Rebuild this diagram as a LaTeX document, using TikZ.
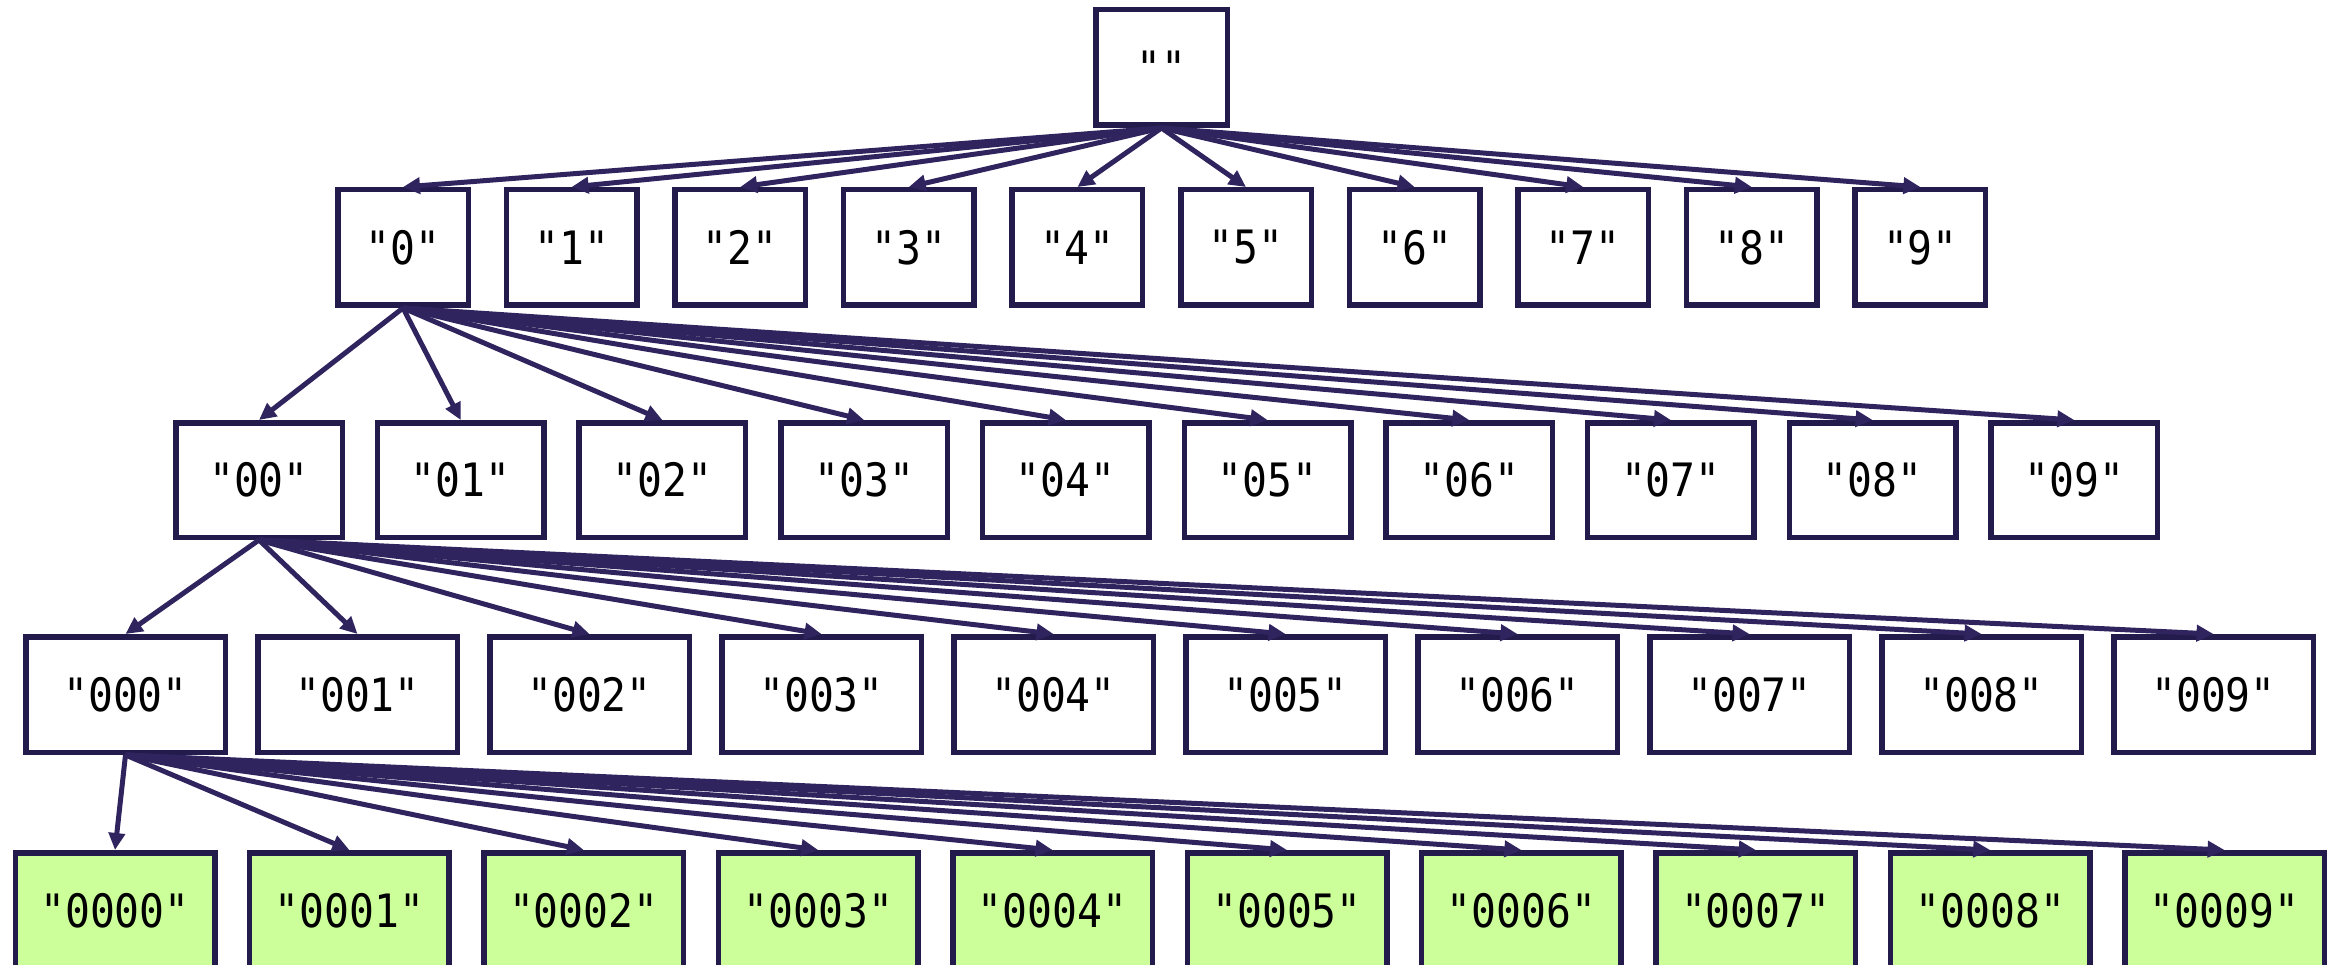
\documentclass[tikz,border=0pt]{standalone}
\usepackage{fontspec}
\newfontfamily\labfont[FakeStretch=0.9]{DejaVu Sans Mono}
\usetikzlibrary{arrows.meta}
\definecolor{bordc}{HTML}{231B4B}
\definecolor{edgec}{HTML}{2F245E}
\definecolor{leafc}{HTML}{CCFF99}
\begin{document}
\begin{tikzpicture}[x=1pt,y=-1pt,
  box/.style={draw=bordc, line width=5.5pt, fill=white, inner sep=0pt,
    font=\labfont\fontsize{46}{52}\selectfont, text=black},
  lzero/.style={box, minimum width=131.5pt, minimum height=115.5pt},
  lone/.style={box, minimum width=130.5pt, minimum height=115.5pt},
  ltwo/.style={box, minimum width=166.5pt, minimum height=114.5pt},
  lthree/.style={box, minimum width=199.5pt, minimum height=115.5pt},
  lfour/.style={box, fill=leafc, minimum width=199.5pt, minimum height=115.5pt},
  link/.style={draw=edgec, line width=5pt, -{Triangle[length=17pt,width=16pt]}}]
\useasboundingbox (0,0) rectangle (2336,965);
\clip (0,0) rectangle (2336,965);
\node[lzero] (r) at (1161.5,67.5) {""};
\foreach \i in {0,...,9} {
  \node[lone] (a\i) at ({403+168.6*\i},247.5) {"\i"};
  \node[ltwo] (b\i) at ({259+201.7*\i},480) {"0\i"};
  \node[lthree] (c\i) at ({125.5+232*\i},694.5) {"00\i"};
  \node[lfour] (d\i) at ({115+234.4*\i},910.5) {"000\i"};
}
\foreach \i in {0,...,9} {
  \draw[link] (r.south) -- (a\i.north);
  \draw[link] (a0.south) -- (b\i.north);
  \draw[link] (b0.south) -- (c\i.north);
  \draw[link] (c0.south) -- (d\i.north);
}
\end{tikzpicture}
\end{document}
